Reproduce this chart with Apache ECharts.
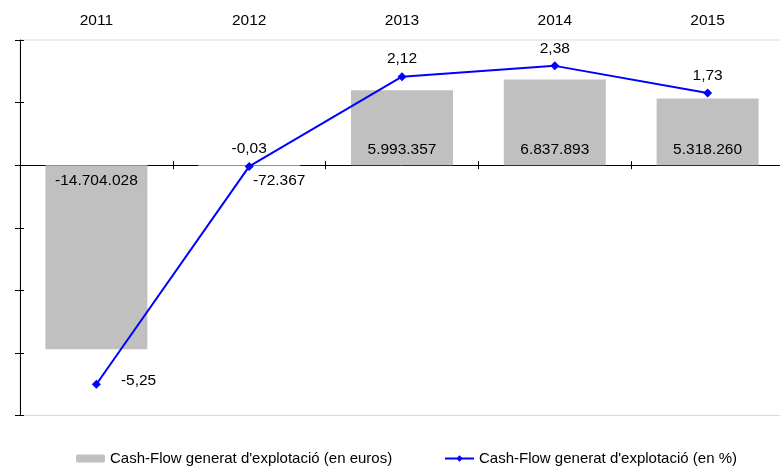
<!DOCTYPE html>
<html>
<head>
<meta charset="utf-8">
<script src="https://cdn.jsdelivr.net/npm/echarts@6/dist/echarts.min.js"></script>
<style>
html,body{margin:0;padding:0;background:#fff;}
#c{width:780px;height:466px;}
</style>
</head>
<body>
<div id="c"></div>
<script>
const categories = ['2011', '2012', '2013', '2014', '2015'];
const eurosValues = [-14704028, -72367, 5993357, 6837893, 5318260];
const pctValues = [-5.25, -0.03, 2.12, 2.38, 1.73];
const barName = "Cash-Flow generat d'explotació (en euros)";
const lineName = "Cash-Flow generat d'explotació (en %)";

const FONT = '"Liberation Sans", Arial, sans-serif';
const FS = 15.5;
const LFS = 15;

function fmtThousands(v) {
  const neg = v < 0;
  const s = Math.abs(Math.round(v)).toString().replace(/\B(?=(\d{3})+(?!\d))/g, '.');
  return (neg ? '-' : '') + s;
}
function fmtPct(v) {
  return v.toFixed(2).replace('.', ',');
}

const barData = eurosValues.map(function (v, i) {
  const item = { value: v };
  if (v < 0) {
    item.label = { position: 'insideTop', distance: 8 };
    if (i === 1) item.label.offset = [30, 0];
  } else {
    item.label = { position: 'insideBottom', distance: 7 };
  }
  return item;
});

const lineData = pctValues.map(function (v, i) {
  const item = { value: v };
  if (i === 0) {
    item.label = { position: 'right', distance: 20, offset: [0, -3] };
  } else {
    item.label = { position: 'top', distance: 5 };
  }
  return item;
});

const chart = echarts.init(document.getElementById('c'), null, { renderer: 'canvas' });
chart.setOption({
  animation: false,
  textStyle: { fontFamily: FONT },
  grid: {
    left: 20, width: 764, top: 40, height: 375.5,
    outerBoundsMode: 'none', containLabel: false,
    show: true, borderColor: '#d9d9d9', borderWidth: 1, backgroundColor: 'transparent'
  },
  legend: [
    {
      data: [barName], left: 76, top: 451, padding: 0, itemWidth: 29, itemHeight: 8, itemGap: 0,
      textStyle: { fontSize: LFS, color: '#000', fontFamily: FONT }
    },
    {
      data: [lineName], left: 444, top: 451, padding: 0, itemWidth: 29, itemHeight: 8, itemGap: 0,
      textStyle: { fontSize: LFS, color: '#000', fontFamily: FONT }
    }
  ],
  xAxis: [
    {
      type: 'category', data: categories, position: 'top',
      axisLine: { show: false, onZero: false }, axisTick: { show: false },
      axisLabel: { fontSize: FS, color: '#000', margin: 11, fontFamily: FONT },
      splitLine: { show: false }
    },
    {
      type: 'category', data: categories, position: 'bottom',
      axisLine: { show: true, onZero: true, onZeroAxisIndex: 0, lineStyle: { color: '#000', width: 1 } },
      axisTick: { show: true, inside: false, length: 4, lineStyle: { color: '#000' } },
      axisLabel: { show: false }, splitLine: { show: false }
    },
    {
      type: 'category', data: categories, position: 'bottom',
      axisLine: { show: false, onZero: true, onZeroAxisIndex: 0 },
      axisTick: { show: true, inside: true, length: 4, lineStyle: { color: '#000' } },
      axisLabel: { show: false }, splitLine: { show: false }
    }
  ],
  yAxis: [
    {
      type: 'value', position: 'left', min: -20000000, max: 10000000, interval: 5000000,
      axisLine: { show: true, onZero: false, lineStyle: { color: '#000', width: 1 } },
      axisTick: { show: true, inside: false, length: 5, lineStyle: { color: '#000' } },
      axisLabel: { show: false }, splitLine: { show: false }
    },
    {
      type: 'value', position: 'right', min: -6, max: 3, interval: 1, show: false,
      splitLine: { show: false }
    },
    {
      type: 'value', position: 'left', min: -20000000, max: 10000000, interval: 5000000,
      axisLine: { show: false, onZero: false },
      axisTick: { show: true, inside: true, length: 4, lineStyle: { color: '#000' } },
      axisLabel: { show: false }, splitLine: { show: false }
    }
  ],
  series: [
    {
      name: barName, type: 'bar', xAxisIndex: 1, yAxisIndex: 0,
      data: barData, barWidth: 102,
      itemStyle: { color: '#c0c0c0' },
      label: {
        show: true, color: '#000', fontSize: FS, fontFamily: FONT,
        formatter: function (p) { return fmtThousands(p.value); }
      },
      z: 2
    },
    {
      name: lineName, type: 'line', xAxisIndex: 1, yAxisIndex: 1,
      data: lineData, symbol: 'diamond', symbolSize: 9,
      lineStyle: { color: '#0000ff', width: 2 },
      itemStyle: { color: '#0000ff' },
      label: {
        show: true, color: '#000', fontSize: FS, fontFamily: FONT,
        formatter: function (p) { return fmtPct(p.value); }
      },
      z: 3
    }
  ]
});
</script>
</body>
</html>
